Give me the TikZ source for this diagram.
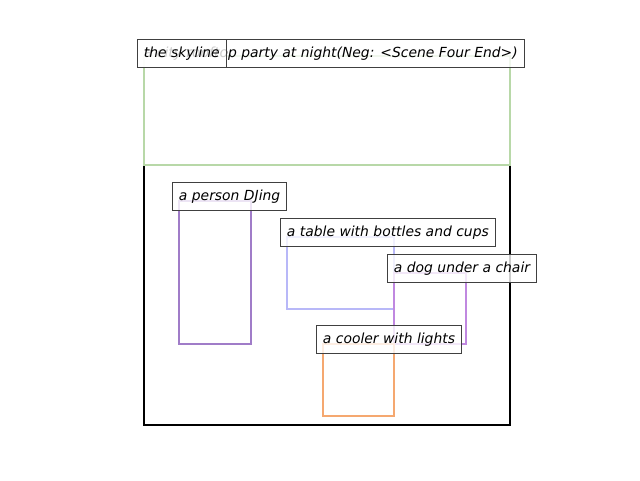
\documentclass[tikz,border=0pt]{standalone}
\usepackage{fontspec}
\setmainfont{DejaVu Sans}
\definecolor{skygreen}{HTML}{B8D8A8}
\definecolor{djpurple}{HTML}{A07CC8}
\definecolor{tableblue}{HTML}{B8B8F8}
\definecolor{dogviolet}{HTML}{C088E0}
\definecolor{coolerorange}{HTML}{F5A870}
\begin{document}
\begin{tikzpicture}[x=1pt,y=-1pt,
  region/.style={line width=2pt},
  tag/.style={draw=black!75, fill=white, fill opacity=0.8, text opacity=1,
    line width=0.9pt, anchor=south west, inner xsep=6.5pt, inner ysep=0pt,
    minimum height=28pt, font=\fontsize{13.9}{16}\selectfont\itshape}]
  \useasboundingbox (0,0) rectangle (640,480);
  % scene frame and regions
  \draw[line width=2.5pt] (144,56) rectangle (510,425);
  \draw[region, draw=skygreen] (144,56) rectangle (510,165);
  \draw[region, draw=djpurple] (179,201) rectangle (251,344);
  \draw[region, draw=tableblue] (287,237) rectangle (394,309);
  \draw[region, draw=dogviolet] (394,273) rectangle (466,344);
  \draw[region, draw=coolerorange] (323,344) rectangle (394,416);
  % labels
  \node[tag] (party) at (137,68) {a city rooftop party at night(Neg: <Scene Four End>)};
  \node[tag] (skyline) at (137,68) {the skyline};
  \node[tag] (dj) at (172,211) {a person DJing};
  \node[tag] (table) at (280,247) {a table with bottles and cups};
  \node[tag] (dog) at (387,283) {a dog under a chair};
  \node[tag] (cooler) at (316,354) {a cooler with lights};
\end{tikzpicture}
\end{document}
